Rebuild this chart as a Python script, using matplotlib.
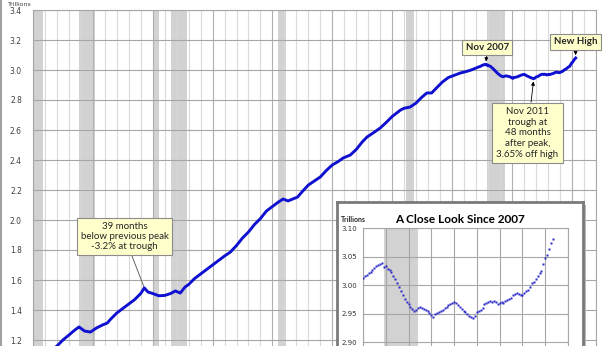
import numpy as np
import matplotlib.pyplot as plt
from matplotlib.ticker import MultipleLocator
from matplotlib.patches import Rectangle

W, H = 616, 346

# long history (fractional years, trillions)
main_years = [1970.0, 1971.0, 1972.0, 1972.5, 1973.0, 1973.5, 1973.85, 1974.3, 1974.8,
              1975.3, 1975.8, 1976.2, 1976.5, 1977.0, 1977.5, 1978.0, 1978.5, 1979.0,
              1979.3, 1979.6, 1980.0, 1980.5, 1981.0, 1981.5, 1981.9, 1982.3, 1982.7,
              1983.0, 1983.5, 1984.0, 1984.5, 1985.0, 1985.5, 1986.0, 1986.5, 1987.0,
              1987.5, 1988.0, 1988.5, 1989.0, 1989.5, 1990.0, 1990.5, 1990.9, 1991.3,
              1991.7, 1992.1, 1992.5, 1993.0, 1993.5, 1994.0, 1994.5, 1995.0, 1995.5,
              1995.9, 1996.5, 1997.0, 1997.5, 1997.9, 1998.5, 1999.0, 1999.5, 2000.0,
              2000.7, 2001.0, 2001.5, 2002.0, 2002.5, 2002.9, 2003.3, 2003.7, 2004.2,
              2004.7, 2005.2, 2005.7, 2006.2, 2006.6]
main_values = [1.04, 1.09, 1.16, 1.20, 1.233, 1.267, 1.287, 1.26, 1.253,
               1.28, 1.30, 1.313, 1.34, 1.38, 1.41, 1.44, 1.47, 1.51,
               1.547, 1.52, 1.51, 1.495, 1.497, 1.51, 1.527, 1.513, 1.553,
               1.57, 1.61, 1.64, 1.67, 1.70, 1.73, 1.76, 1.787, 1.83,
               1.88, 1.92, 1.97, 2.01, 2.06, 2.09, 2.12, 2.14, 2.127,
               2.14, 2.153, 2.19, 2.233, 2.26, 2.287, 2.33, 2.367, 2.39,
               2.413, 2.433, 2.47, 2.52, 2.553, 2.585, 2.613, 2.65, 2.69,
               2.733, 2.745, 2.753, 2.78, 2.82, 2.847, 2.847, 2.88, 2.92,
               2.95, 2.965, 2.98, 2.99, 3.0]

# monthly since Jan 2007 (inset dots)
recent_values = [3.013, 3.015, 3.018, 3.021, 3.023, 3.026, 3.030, 3.033, 3.035, 3.037,
                 3.038, 3.031, 3.033, 3.028, 3.026, 3.022, 3.016, 3.010, 3.003, 2.996,
                 2.989, 2.982, 2.976, 2.971, 2.966, 2.961, 2.958, 2.955, 2.957, 2.959,
                 2.961, 2.960, 2.958, 2.957, 2.955, 2.951, 2.948, 2.944, 2.950, 2.951,
                 2.952, 2.954, 2.956, 2.959, 2.962, 2.965, 2.967, 2.969, 2.971, 2.969,
                 2.965, 2.961, 2.958, 2.955, 2.952, 2.949, 2.946, 2.944, 2.942, 2.946,
                 2.952, 2.955, 2.957, 2.960, 2.966, 2.968, 2.971, 2.972, 2.970, 2.972,
                 2.970, 2.967, 2.969, 2.971, 2.969, 2.972, 2.974, 2.976, 2.978, 2.982,
                 2.985, 2.986, 2.984, 2.982, 2.983, 2.986, 2.989, 2.992, 2.997, 3.003,
                 3.005, 3.011, 3.016, 3.021, 3.025, 3.036, 3.047, 3.053, 3.064, 3.073,
                 3.080]
recent_years = [2007 + m / 12 for m in range(len(recent_values))]

recessions = [(1969.92, 1970.83), (1973.83, 1975.17), (1980.0, 1980.5), (1981.5, 1982.83),
              (1990.5, 1991.17), (2001.17, 2001.83), (2007.92, 2009.42)]


def box(l, t, r, b):
    return [l / W, 1 - b / H, (r - l) / W, (b - t) / H]


fig = plt.figure(figsize=(W / 100, H / 100), dpi=100)
fig.patch.set_facecolor('white')

#main chart, bottom part is cut off like the source
ax = fig.add_axes(box(33, 10, 596, 346))
ax.plot(main_years + recent_years, main_values + recent_values, color='#1010d0', lw=2.1,
        solid_joinstyle='round', zorder=5)
for a, b in recessions:
    ax.axvspan(a, b, color='#d2d2d2', lw=0, zorder=0)
ax.set_xlim(1970, 2017.03)
ax.set_ylim(1.16, 3.4)
ax.xaxis.set_major_locator(MultipleLocator(5))
ax.xaxis.set_minor_locator(MultipleLocator(1))
ax.set_yticks(np.arange(1.2, 3.41, 0.2))
ax.set_yticklabels(['%.1f' % v for v in np.arange(1.2, 3.41, 0.2)])
ax.grid(axis='x', which='minor', color='#d9d9d9', lw=0.8, zorder=1)
ax.grid(axis='x', which='major', color='#b0b0b0', lw=0.8, zorder=1)
ax.grid(axis='y', which='major', color='#a6a6a6', lw=0.8, zorder=1)
ax.set_axisbelow(True)
ax.tick_params(axis='both', which='both', length=0)
ax.tick_params(axis='y', labelsize=5.5, labelcolor='#404040', pad=8)
ax.tick_params(axis='x', labelbottom=False)
for s in ax.spines.values():
    s.set_color('#a6a6a6')
    s.set_linewidth(0.8)
ax.spines['bottom'].set_visible(False)

fig.text(8 / W, 1 - 4 / H, 'Trillions', fontsize=4.5, color='#404040', va='center')
fig.add_artist(plt.Line2D([0.5 / W, 0.5 / W], [0, 1], color='#a0a0a0', lw=1.5))

note = dict(boxstyle='square,pad=0.35', fc='#ffffcc', ec='#8c8c8c', lw=0.8)
ax.annotate('39 months\nbelow previous peak\n-3.2% at trough', xy=(1979.3, 1.547),
            xytext=(1977.64, 1.89), ha='center', va='center', fontsize=7, family='Lato',
            color='#262626', bbox=note,
            arrowprops=dict(arrowstyle='-', color='#505050', lw=0.6, shrinkA=0, shrinkB=1))
ax.annotate('Nov 2007', xy=(2007.83, 3.038), xytext=(2007.93, 3.15), ha='center', va='center',
            fontsize=7, family='Lato', fontweight='bold', color='#262626', bbox=note,
            arrowprops=dict(arrowstyle='-|>,head_width=0.15,head_length=0.3', color='black',
                            lw=0.6, shrinkA=0, shrinkB=2))
ax.annotate('New High', xy=(2015.33, 3.08), xytext=(2015.32, 3.187), ha='center', va='center',
            fontsize=7, family='Lato', fontweight='bold', color='#262626', bbox=note,
            arrowprops=dict(arrowstyle='-|>,head_width=0.15,head_length=0.3', color='black',
                            lw=0.6, shrinkA=0, shrinkB=2))
ax.annotate('Nov 2011\ntrough at\n48 months\nafter peak,\n3.65% off high',
            xy=(2011.83, 2.942), xytext=(2011.31, 2.58), ha='center', va='center',
            fontsize=7, family='Lato', color='#262626', linespacing=1.25,
            bbox=dict(boxstyle='square,pad=0.45', fc='#ffffcc', ec='#8c8c8c', lw=0.8),
            arrowprops=dict(arrowstyle='-|>,head_width=0.15,head_length=0.3', color='black',
                            lw=0.6, shrinkA=0, shrinkB=2))

#inset frame with a shadow
fig.add_artist(Rectangle(((337 + 3) / W, 0), (583 - 337) / W, (H - 202 - 3) / H,
                         transform=fig.transFigure, fc='#b8b8b8', ec='none', zorder=0.8))
frame = fig.add_axes(box(337, 202, 583, 350))
frame.set_zorder(1)
frame.set_facecolor('white')
frame.set_xticks([])
frame.set_yticks([])
for s in frame.spines.values():
    s.set_color('#7a7a7a')
    s.set_linewidth(2)
frame.text(0.5, (350 - 219) / 148, 'A Close Look Since 2007', transform=frame.transAxes,
           ha='center', va='center', fontsize=8.5, family='Lato', fontweight='bold',
           color='black')
frame.text(4 / 246, (350 - 219) / 148, 'Trillions', transform=frame.transAxes,
           ha='left', va='center', fontsize=5, family='Lato', fontweight='bold', color='#262626')

ins = fig.add_axes(box(363, 228, 568, 346))
ins.set_zorder(2)
ins.plot(recent_years, recent_values, ls='none', marker='s', ms=1.5, mec='none',
         color='#2a2ac8', zorder=5)
ins.axvspan(2007.92, 2009.42, color='#d2d2d2', lw=0, zorder=0)
ins.set_xlim(2007, 2016)
ins.set_ylim(2.893, 3.10)
ins.set_xticks(range(2007, 2017))
ins.set_yticks([2.90, 2.95, 3.00, 3.05, 3.10])
ins.set_yticklabels(['2.90', '2.95', '3.00', '3.05', '3.10'])
ins.grid(color='#a6a6a6', lw=0.8)
ins.set_axisbelow(True)
ins.tick_params(length=0, labelbottom=False, labelsize=5, labelcolor='#333333', pad=4)
for s in ins.spines.values():
    s.set_color('#a6a6a6')
    s.set_linewidth(0.8)
ins.spines['bottom'].set_visible(False)

fig.savefig('out.png', dpi=100)
